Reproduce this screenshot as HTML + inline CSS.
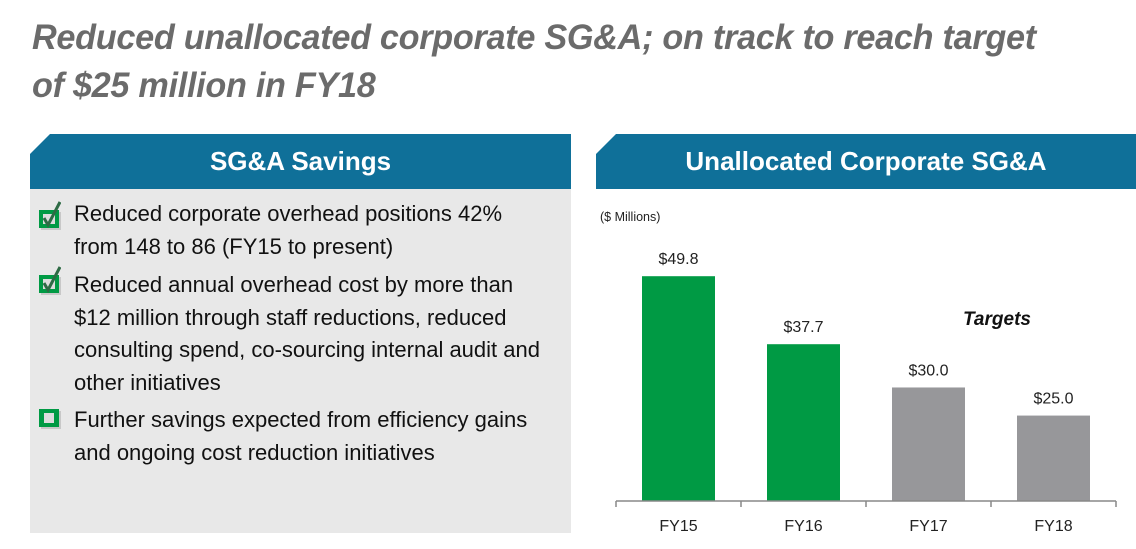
<!DOCTYPE html>
<html><head><meta charset="utf-8">
<style>
body{margin:0;width:1136px;height:549px;background:#fff;font-family:"Liberation Sans",sans-serif;position:relative;overflow:hidden}
.title{position:absolute;left:32px;top:14px;font-size:35px;font-weight:bold;font-style:italic;color:#6b6b6b;line-height:48px;letter-spacing:-0.3px;transform:scaleX(0.978);transform-origin:0 0;white-space:nowrap}
.hdr{position:absolute;top:134px;height:55px;background:#0f7099;color:#fff;font-weight:bold;font-size:26px;text-align:center;line-height:55px;clip-path:polygon(20px 0,100% 0,100% 100%,0 100%,0 20px)}
.panel{position:absolute;left:30px;top:189px;width:541px;height:344px;background:#e8e8e8}
.item{position:absolute;left:74px;font-size:22px;line-height:32.5px;color:#111;white-space:nowrap}
.cb{position:absolute;left:39px;width:22px;height:20px}
</style></head><body>
<div class="title">Reduced unallocated corporate SG&amp;A; on track to reach target<br>of $25 million in FY18</div>
<div class="hdr" style="left:30px;width:541px">SG&amp;A Savings</div>
<div class="panel"></div>
<svg class="cb" style="top:201px;height:29px" viewBox="0 -9 22 29"><rect x="2" y="2" width="20" height="18" fill="#c8c8c8"/><rect x="0" y="0" width="20" height="18" fill="#009a44"/><rect x="4" y="4" width="12" height="10" fill="#ddd"/><path d="M5 8 L9 15 L21 -8" stroke="#2e6b45" stroke-width="3" fill="none"/></svg>
<div class="item" style="top:198px">Reduced corporate overhead positions 42%<br>from 148 to 86 (FY15 to present)</div>
<svg class="cb" style="top:266px;height:29px" viewBox="0 -9 22 29"><rect x="2" y="2" width="20" height="18" fill="#c8c8c8"/><rect x="0" y="0" width="20" height="18" fill="#009a44"/><rect x="4" y="4" width="12" height="10" fill="#ddd"/><path d="M5 8 L9 15 L21 -8" stroke="#2e6b45" stroke-width="3" fill="none"/></svg>
<div class="item" style="top:269px">Reduced annual overhead cost by more than<br>$12 million through staff reductions, reduced<br>consulting spend, co-sourcing internal audit and<br>other initiatives</div>
<svg class="cb" style="top:409px" viewBox="0 0 22 20"><rect x="2" y="2" width="20" height="18" fill="#c8c8c8"/><rect x="0" y="0" width="20" height="18" fill="#009a44"/><rect x="5" y="4" width="10" height="10" fill="#ddd"/></svg>
<div class="item" style="top:404px">Further savings expected from efficiency gains<br>and ongoing cost reduction initiatives</div>
<div class="hdr" style="left:596px;width:540px">Unallocated Corporate SG&amp;A</div>
<svg id="chart" style="position:absolute;left:0;top:0" width="1136" height="549"></svg>
<script>
const categories=["FY15","FY16","FY17","FY18"];
const values=[49.8,37.7,30.0,25.0];
const valueLabels=["$49.8","$37.7","$30.0","$25.0"];
const isTarget=[false,false,true,true];
const svg=document.getElementById('chart');
const NS="http://www.w3.org/2000/svg";
const x0=616,band=125,base=501;
function y(v){return base-(v-9.8)*5.62;}
function mk(t,a){const e=document.createElementNS(NS,t);for(const k in a)e.setAttribute(k,a[k]);svg.appendChild(e);return e;}
let t=mk('text',{x:600,y:221,'font-size':12.5,fill:'#222'});t.textContent='($ Millions)';


t=mk('text',{x:997,y:325,'font-size':19,'font-weight':'bold','font-style':'italic','text-anchor':'middle',fill:'#111'});t.textContent='Targets';


categories.forEach((c,i)=>{
 const cx=x0+band*(i+0.5),top=y(values[i]);
 const r=mk('rect',{x:cx-36.5,y:top,width:73,height:base-top,fill:isTarget[i]?'#97979a':'#009a44'});
 
 
 const l=mk('text',{x:cx,y:top-12,'font-size':16,'text-anchor':'middle',fill:'#222'});l.textContent=valueLabels[i];
 
 
 const xl=mk('text',{x:cx,y:531,'font-size':16,'text-anchor':'middle',fill:'#222'});xl.textContent=c;
 
 
});
const ax=mk('line',{x1:x0,x2:x0+band*4,y1:base,y2:base,stroke:'#888','stroke-width':1.5});


for(let i=0;i<=4;i++){const tk=mk('line',{x1:x0+band*i,x2:x0+band*i,y1:base,y2:base+6,stroke:'#888','stroke-width':1.5});
 
 }
</script>
</body></html>
